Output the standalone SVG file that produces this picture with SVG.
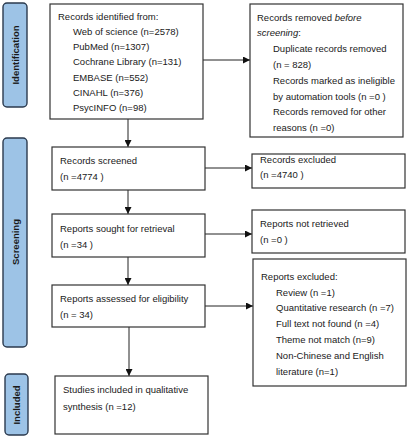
<svg xmlns="http://www.w3.org/2000/svg" width="411" height="440" viewBox="0 0 411 440">
<style>
.bg{fill:#ffffff}
.box{fill:#ffffff;stroke:#333333;stroke-width:1.2}
.bar{fill:#9dc3e6;stroke:#2b3a4e;stroke-width:1.4}
.t{font-family:"Liberation Sans",Arial,sans-serif;font-size:9.5px;fill:#1a1a1a}
.bt{font-family:"Liberation Sans",Arial,sans-serif;font-size:9.5px;font-weight:bold;fill:#1a1a1a}
.ln{stroke:#222222;stroke-width:1;fill:none}
</style>
<defs>
<marker id="ah" viewBox="0 0 10 10" refX="10" refY="5" markerWidth="7" markerHeight="7" markerUnits="userSpaceOnUse" orient="auto">
<path d="M0,0 L10,5 L0,10 z" fill="#111111"/>
</marker>
</defs>
<rect class="bg" x="0" y="0" width="411" height="440"/>

<g id="phase-identification">
<rect class="bar" x="3" y="3" width="24" height="104" rx="4"/>
<text class="bt" transform="translate(18.5,55) rotate(-90)" text-anchor="middle">Identification</text>
</g>
<g id="phase-screening">
<rect class="bar" x="3" y="138" width="24" height="209" rx="4"/>
<text class="bt" transform="translate(18.5,242) rotate(-90)" text-anchor="middle">Screening</text>
</g>
<g id="phase-included">
<rect class="bar" x="5" y="374" width="23" height="61" rx="4"/>
<text class="bt" transform="translate(20,405) rotate(-90)" text-anchor="middle">Included</text>
</g>

<g id="connectors">
<line class="ln" x1="203" y1="60" x2="250" y2="60" marker-end="url(#ah)"/>
<line class="ln" x1="128" y1="119" x2="128" y2="147" marker-end="url(#ah)"/>
<line class="ln" x1="205" y1="168" x2="252" y2="168" marker-end="url(#ah)"/>
<line class="ln" x1="128" y1="190" x2="128" y2="214" marker-end="url(#ah)"/>
<line class="ln" x1="205" y1="234" x2="252" y2="234" marker-end="url(#ah)"/>
<line class="ln" x1="128" y1="257" x2="128" y2="285" marker-end="url(#ah)"/>
<line class="ln" x1="205" y1="306" x2="253" y2="306" marker-end="url(#ah)"/>
<line class="ln" x1="129" y1="327" x2="129" y2="376" marker-end="url(#ah)"/>
</g>

<g id="records-identified">
<rect class="box" x="50" y="4" width="153" height="115"/>
<text class="t" x="58" y="19.5">Records identified from:</text>
<text class="t" x="73" y="34.8">Web of science (n=2578)</text>
<text class="t" x="73" y="50.1">PubMed (n=1307)</text>
<text class="t" x="73" y="65.4">Cochrane Library (n=131)</text>
<text class="t" x="73" y="80.7">EMBASE (n=552)</text>
<text class="t" x="73" y="96">CINAHL (n=376)</text>
<text class="t" x="73" y="111.3">PsycINFO (n=98)</text>
</g>

<g id="records-removed">
<rect class="box" x="250" y="4" width="153" height="133"/>
<text class="t" x="257" y="20.5">Records removed <tspan font-style="italic">before</tspan></text>
<text class="t" x="257" y="36.3"><tspan font-style="italic">screening</tspan>:</text>
<text class="t" x="273" y="52.1">Duplicate records removed</text>
<text class="t" x="273" y="67.9">(n = 828)</text>
<text class="t" x="273" y="83.7">Records marked as ineligible</text>
<text class="t" x="273" y="99.5">by automation tools (n =0 )</text>
<text class="t" x="273" y="115.3">Records removed for other</text>
<text class="t" x="273" y="131.1">reasons (n =0)</text>
</g>

<g id="records-screened">
<rect class="box" x="52" y="147" width="153" height="43"/>
<text class="t" x="60" y="163.5">Records screened</text>
<text class="t" x="60" y="179.5">(n =4774 )</text>
</g>

<g id="records-excluded">
<rect class="box" x="252" y="154" width="153" height="34"/>
<text class="t" x="260" y="162.5">Records excluded</text>
<text class="t" x="260" y="177.5">(n =4740 )</text>
</g>

<g id="reports-sought">
<rect class="box" x="52" y="214" width="153" height="43"/>
<text class="t" x="60" y="231.5">Reports sought for retrieval</text>
<text class="t" x="60" y="247.5">(n =34 )</text>
</g>

<g id="reports-not-retrieved">
<rect class="box" x="252" y="210" width="153" height="43"/>
<text class="t" x="260" y="226.5">Reports not retrieved</text>
<text class="t" x="260" y="242.5">(n =0 )</text>
</g>

<g id="reports-assessed">
<rect class="box" x="52" y="285" width="153" height="42"/>
<text class="t" x="60" y="301.5">Reports assessed for eligibility</text>
<text class="t" x="60" y="317.5">(n = 34)</text>
</g>

<g id="reports-excluded">
<rect class="box" x="253" y="259" width="153" height="127"/>
<text class="t" x="261" y="279.5">Reports excluded:</text>
<text class="t" x="276" y="295.5">Review (n =1)</text>
<text class="t" x="276" y="310.5">Quantitative research (n =7)</text>
<text class="t" x="276" y="326.5">Full text not found (n =4)</text>
<text class="t" x="276" y="342.5">Theme not match (n=9)</text>
<text class="t" x="276" y="358.5">Non-Chinese and English</text>
<text class="t" x="276" y="374.5">literature (n=1)</text>
</g>

<g id="studies-included">
<rect class="box" x="55" y="376" width="153" height="58"/>
<text class="t" x="63" y="392.5">Studies included in qualitative</text>
<text class="t" x="63" y="409.5">synthesis (n =12)</text>
</g>
</svg>
